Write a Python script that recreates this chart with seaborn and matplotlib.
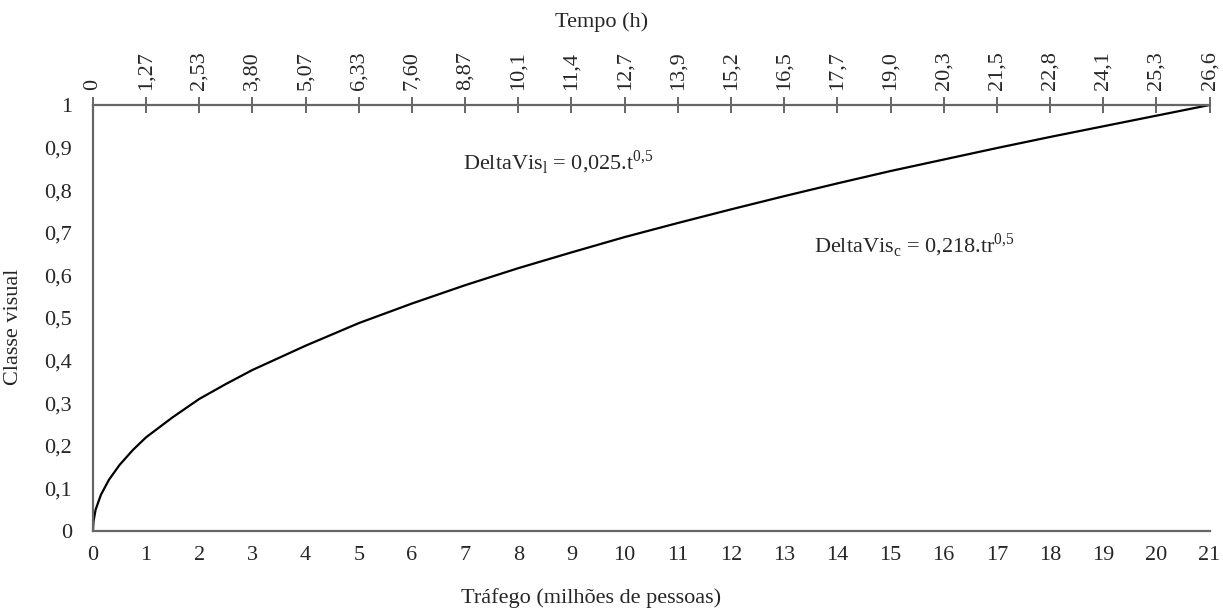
import numpy as np
import pandas as pd
import seaborn as sns
import matplotlib.pyplot as plt

sns.set_style('white')
plt.rcParams['font.family'] = ['Liberation Serif', 'DejaVu Serif']
plt.rcParams['mathtext.fontset'] = 'custom'
plt.rcParams['mathtext.rm'] = 'Liberation Serif'
plt.rcParams['font.size'] = 16

# curva (trafego em milhoes de pessoas x classe visual)
trafego = [0, 0.01, 0.05, 0.15, 0.3, 0.5, 0.75, 1, 1.5, 2, 2.5, 3, 4, 5, 6, 7, 8, 9, 10,
           11, 12, 13, 14, 15, 16, 17, 18, 19, 20, 21]
classe = [0, 0.022, 0.05, 0.085, 0.12, 0.155, 0.19, 0.22, 0.267, 0.31, 0.345, 0.378, 0.435,
          0.488, 0.534, 0.577, 0.617, 0.654, 0.69, 0.723, 0.755, 0.786, 0.816, 0.845,
          0.872, 0.899, 0.925, 0.95, 0.975, 1.0]
x_ticks = list(range(22))
y_ticks = [round(i * 0.1, 1) for i in range(11)]
y_labels = ['0', '0,1', '0,2', '0,3', '0,4', '0,5', '0,6', '0,7', '0,8', '0,9', '1']
tempo_labels = ['0', '1,27', '2,53', '3,80', '5,07', '6,33', '7,60', '8,87', '10,1', '11,4',
                '12,7', '13,9', '15,2', '16,5', '17,7', '19,0', '20,3', '21,5', '22,8',
                '24,1', '25,3', '26,6']

df = pd.DataFrame({'trafego': trafego, 'classe': classe})

fig = plt.figure(figsize=(12.23, 6.12), dpi=100)
ax = fig.add_axes([0.076, 0.1324, 0.913, 0.696])
sns.lineplot(data=df, x='trafego', y='classe', color='black', linewidth=1.6, ax=ax)

ax.set_xlim(0, 21)
ax.set_ylim(0, 1)
ax.set_xticks(x_ticks)
ax.set_xticklabels([str(v) for v in x_ticks])
ax.set_yticks(y_ticks)
ax.set_yticklabels(y_labels)

gray = '#666666'
ax.spines['right'].set_visible(False)
for s in ['left', 'bottom', 'top']:
    ax.spines[s].set_color(gray)
    ax.spines[s].set_linewidth(1.6)
ax.tick_params(axis='x', direction='out', length=6, width=1.4, color=gray, pad=4.5)
ax.tick_params(axis='y', direction='out', length=6, width=1.4, color=gray, pad=9)

top = ax.secondary_xaxis('top')
top.set_xticks(x_ticks)
top.set_xticklabels(tempo_labels, rotation=90)
top.tick_params(direction='inout', length=12, width=1.4, color=gray, pad=5)
top.spines['top'].set_visible(False)
# titulo do eixo superior
fig.text(0.492, 0.964, 'Tempo (h)', ha='center', va='center', fontsize=16)

ax.set_xlabel('Tráfego (milhões de pessoas)')
ax.xaxis.set_label_coords(0.446, -0.135)
ax.set_ylabel('Classe visual')
ax.yaxis.set_label_coords(-0.063, 0.48)

ax.text(8.76, 0.866, r'DeltaVis$_\mathregular{l}$ = 0,025.t$^\mathregular{0{,}5}$',
        ha='center', va='center', fontsize=16)
ax.text(15.45, 0.671, r'DeltaVis$_\mathregular{c}$ = 0,218.tr$^\mathregular{0{,}5}$',
        ha='center', va='center', fontsize=16)

fig.savefig('out.png', dpi=100)
